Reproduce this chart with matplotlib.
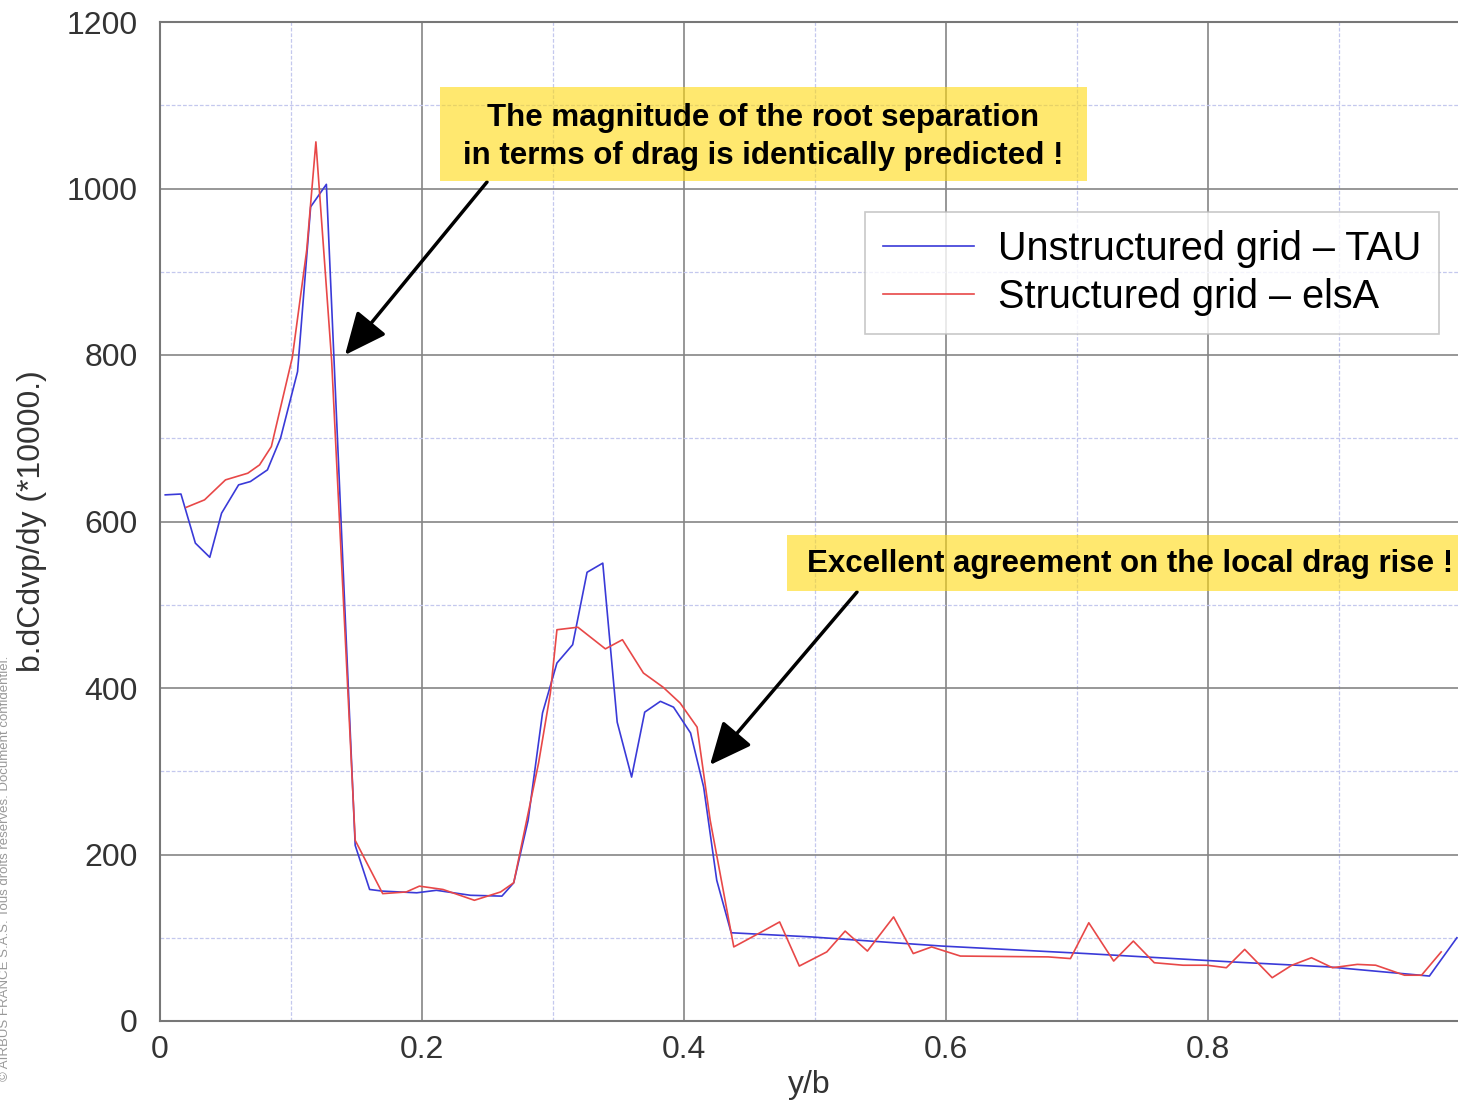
import matplotlib
matplotlib.use("Agg")
import matplotlib.pyplot as plt
from matplotlib.patches import Rectangle

plt.rcParams['font.family'] = ['Liberation Sans', 'DejaVu Sans']

# spanwise drag distribution
tau_x = [0.004, 0.016, 0.027, 0.038, 0.047, 0.060, 0.069, 0.082, 0.092, 0.105,
         0.115, 0.127, 0.149, 0.160, 0.170, 0.196, 0.211, 0.237, 0.261, 0.270,
         0.281, 0.292, 0.303, 0.315, 0.326, 0.338, 0.349, 0.360, 0.370, 0.382,
         0.392, 0.405, 0.415, 0.425, 0.436, 0.497, 0.597, 0.707, 0.818, 0.892,
         0.969, 0.990]
tau_y = [632, 633, 574, 557, 610, 644, 648, 662, 700, 780,
         978, 1005, 211, 158, 156, 154, 157, 151, 150, 166,
         241, 370, 430, 452, 539, 550, 359, 293, 371, 384,
         377, 346, 281, 169, 106, 101, 90, 81, 71, 65,
         54, 100]

els_x = [0.020, 0.034, 0.050, 0.067, 0.076, 0.085, 0.101, 0.112, 0.119, 0.131,
         0.149, 0.170, 0.188, 0.198, 0.216, 0.240, 0.260, 0.270, 0.289, 0.298,
         0.303, 0.319, 0.340, 0.353, 0.369, 0.384, 0.397, 0.410, 0.420, 0.438,
         0.458, 0.473, 0.488, 0.509, 0.523, 0.540, 0.560, 0.575, 0.589, 0.611,
         0.678, 0.695, 0.709, 0.728, 0.743, 0.759, 0.781, 0.799, 0.814, 0.828,
         0.849, 0.864, 0.879, 0.895, 0.914, 0.928, 0.950, 0.963, 0.978]
els_y = [617, 626, 650, 658, 668, 690, 797, 926, 1056, 794,
         217, 153, 155, 162, 158, 145, 155, 166, 310, 394,
         470, 473, 447, 458, 418, 401, 382, 353, 241, 89,
         106, 119, 66, 83, 108, 84, 125, 81, 89, 78,
         77, 75, 118, 72, 96, 70, 67, 67, 64, 86,
         52, 67, 76, 64, 68, 67, 55, 55, 83]

labels = ["Unstructured grid \u2013 TAU", "Structured grid \u2013 elsA"]
x_ticks = [0, 0.2, 0.4, 0.6, 0.8]
x_tick_labels = ["0", "0.2", "0.4", "0.6", "0.8"]
y_ticks = [0, 200, 400, 600, 800, 1000, 1200]

W, H = 1458, 1105
fig = plt.figure(figsize=(W / 100, H / 100), dpi=100)

def fx(px):
    return px / W

def fy(py):
    return 1 - py / H

ax = fig.add_axes([fx(160), fy(1021), 1 - fx(160), fy(22) - fy(1021)])

ax.plot(tau_x, tau_y, color='#3a3ad8', lw=1.2, label=labels[0])
ax.plot(els_x, els_y, color='#e84848', lw=1.2, label=labels[1])

ax.set_xlim(0, (W - 160) / 1310)
ax.set_ylim(0, 1200)
ax.set_xticks(x_ticks)
ax.set_xticklabels(x_tick_labels)
ax.set_yticks(y_ticks)
ax.set_xticks([0.1, 0.3, 0.5, 0.7, 0.9], minor=True)
ax.set_yticks([100, 300, 500, 700, 900, 1100], minor=True)
ax.tick_params(which='both', length=0, labelsize=23, labelcolor='#333333')
ax.tick_params(axis='x', pad=10)
ax.tick_params(axis='y', pad=16)

ax.grid(which='major', color='#858585', lw=1.2)
ax.grid(which='minor', color='#c4c8ee', lw=0.9, linestyle=(0, (3, 1.5)))
ax.set_axisbelow(True)
for s in ['left', 'bottom', 'top']:
    ax.spines[s].set_color('#777777')
    ax.spines[s].set_linewidth(1.5)
ax.spines['right'].set_visible(False)

ax.set_xlabel("y/b", fontsize=23, color='#333333', labelpad=4)
ax.set_ylabel("b.dCdvp/dy (*10000.)", fontsize=23, color='#333333', labelpad=14)

leg = fig.legend(loc='upper left', bbox_to_anchor=(fx(865), fy(212)),
                 fontsize=28.5, frameon=True, fancybox=False, handlelength=2.3,
                 borderpad=0.45, labelspacing=0.25, handletextpad=0.62, borderaxespad=0)
leg.get_frame().set_edgecolor('#bbbbbb')
leg.get_frame().set_linewidth(1.2)

# yellow note boxes
fig.patches.append(Rectangle((fx(440), fy(181)), fx(1087) - fx(440), fy(87) - fy(181),
                             transform=fig.transFigure, facecolor='#ffd90f', alpha=0.6,
                             edgecolor='none', zorder=5))
fig.text(fx(763), fy(137), "The magnitude of the root separation\nin terms of drag is identically predicted !",
         ha='center', va='center', fontsize=22.5, fontweight='bold', linespacing=1.36, zorder=6)

fig.patches.append(Rectangle((fx(787), fy(591)), 1 - fx(787), fy(535) - fy(591),
                             transform=fig.transFigure, facecolor='#ffd90f', alpha=0.6,
                             edgecolor='none', zorder=5))
fig.text(fx(807), fy(564), "Excellent agreement on the local drag rise !",
         ha='left', va='center', fontsize=22.5, fontweight='bold', zorder=6)

arrow = dict(arrowstyle='-|>,head_length=1.0,head_width=0.45', color='black',
             lw=2.5, mutation_scale=26, shrinkA=0, shrinkB=0)
ax.annotate("", xy=(fx(345), fy(355)), xycoords='figure fraction',
            xytext=(fx(487), fy(182)), textcoords='figure fraction', arrowprops=arrow)
ax.annotate("", xy=(fx(710), fy(765)), xycoords='figure fraction',
            xytext=(fx(857), fy(592)), textcoords='figure fraction', arrowprops=arrow)

fig.text(fx(5), fy(868), "\u00a9 AIRBUS FRANCE S.A.S. Tous droits r\u00e9serv\u00e9s. Document confidentiel.",
         rotation=90, ha='center', va='center', fontsize=9.5, color='#999999')

fig.savefig("out.png", dpi=100)
